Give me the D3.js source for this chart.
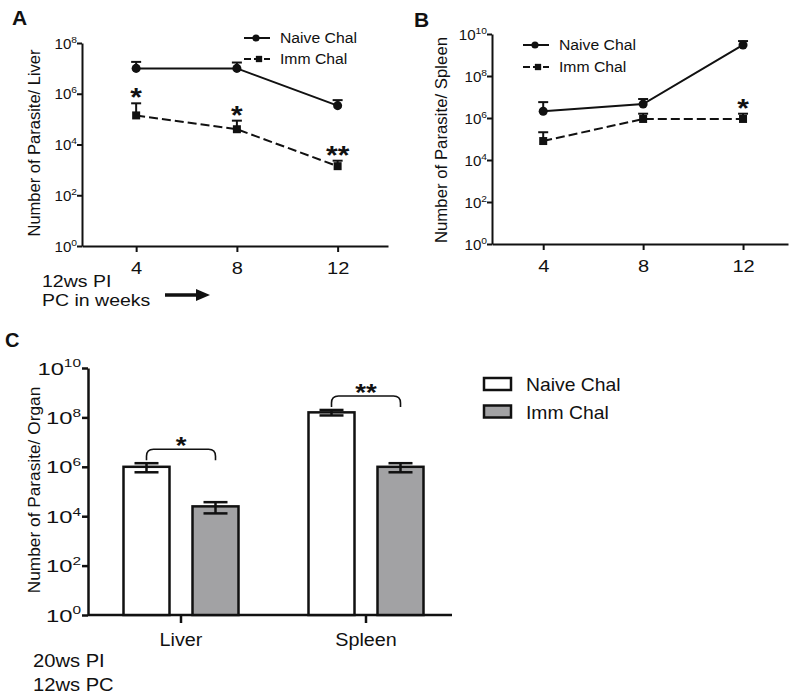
<!DOCTYPE html>
<html><head><meta charset="utf-8">
<script src="https://cdn.jsdelivr.net/npm/d3@7"></script>
<style>
body{margin:0;background:#fff}
svg{display:block;background:#fff}
text{font-family:"Liberation Sans",Arial,Helvetica,sans-serif;fill:#111}
</style>
</head><body>
<svg id="c" width="800" height="697"></svg>
<script>
// ---------- data ----------
const weeks = [4, 8, 12];
const seriesNames = ["Naive Chal", "Imm Chal"];
// Panel A: parasites per liver
const liverNaive      = [1.0e7, 1.0e7, 3.4e5];
const liverNaiveUpper = [1.8e7, 1.7e7, 5.6e5];
const liverImm        = [1.4e5, 4.0e4, 1.4e3];
const liverImmUpper   = [4.2e5, 8.7e4, 2.3e3];
const liverSig        = ["*", "*", "**"];
// Panel B: parasites per spleen
const spleenNaive      = [2.1e6, 4.6e6, 3.0e9];
const spleenNaiveUpper = [5.7e6, 8.0e6, 4.6e9];
const spleenImm        = [8.0e4, 9.0e5, 9.0e5];
const spleenImmUpper   = [2.1e5, 1.6e6, 1.6e6];
const spleenSig        = ["", "", "*"];
// Panel C: parasites per organ
const organs       = ["Liver", "Spleen"];
const organNaive    = [1.0e6, 1.6e8];
const organNaiveSem = [4.0e5, 4.0e7];
const organImm      = [2.5e4, 1.0e6];
const organImmSem   = [1.2e4, 4.0e5];
const organSig      = ["*", "**"];
// tick values
const ticksA  = [1, 1e2, 1e4, 1e6, 1e8];
const ticksBC = [1, 1e2, 1e4, 1e6, 1e8, 1e10];

// ---------- helpers ----------
const svg = d3.select("#c");
const INK = "#111";
function label(g, x, y, s, size, o = {}) {
  return g.append("text")
    .attr("transform", `translate(${x},${y}) scale(${o.sx || 1},1)${o.rot ? ` rotate(${o.rot})` : ""}`)
    .attr("font-size", size)
    .attr("font-weight", o.bold ? "bold" : null)
    .attr("text-anchor", o.anchor || "start")
    .text(s);
}
function powLabel(g, x, y, v, size, supSize, sx) {
  const e = Math.round(Math.log10(v));
  const t = g.append("text")
    .attr("transform", `translate(${x},${y}) scale(${sx},1)`)
    .attr("font-size", size).attr("text-anchor", "end");
  t.append("tspan").text("10");
  t.append("tspan").attr("font-size", supSize).attr("dy", -size * 0.42).text(e);
}
function styleAxis(a, w) {
  a.selectAll("path,line").attr("stroke", INK).attr("stroke-width", w);
}

// ---------- line panels ----------
function linePanel(o) {
  const g = svg.append("g");
  const x = d3.scaleLinear().domain(o.xDomain).range(o.xRange);
  const y = d3.scaleLog().domain([1, o.ticks[o.ticks.length - 1]]).range(o.yRange);

  const ax = g.append("g").attr("transform", `translate(0,${o.yRange[0]})`)
    .call(d3.axisBottom(x).tickValues(weeks).tickSize(6).tickSizeOuter(0).tickFormat(""));
  styleAxis(ax, 2);
  ax.selectAll(".tick").each(function (d) {
    label(d3.select(this), 0, 28, d, 17, { anchor: "middle", sx: 1.18 });
  });
  const ay = g.append("g").attr("transform", `translate(${o.xRange[0]},0)`)
    .call(d3.axisLeft(y).tickValues(o.ticks).tickSize(5).tickSizeOuter(0).tickFormat(""));
  styleAxis(ay, 2);
  ay.selectAll(".tick").each(function (d) {
    powLabel(d3.select(this), -5, 5, d, 14, 9.5, 1.08);
  });

  const line = d3.line().x((d, i) => x(weeks[i])).y(d => y(d));
  const series = [
    { v: o.naive, up: o.naiveUp, dash: null, sym: d3.symbolCircle, size: 64 },
    { v: o.imm, up: o.immUp, dash: "9,4", sym: d3.symbolSquare, size: 64 }
  ];
  series.forEach(s => {
    g.append("path").attr("d", line(s.v)).attr("fill", "none")
      .attr("stroke", INK).attr("stroke-width", 2).attr("stroke-dasharray", s.dash);
    s.v.forEach((v, i) => {
      const cx = x(weeks[i]);
      g.append("line").attr("x1", cx).attr("x2", cx).attr("y1", y(v)).attr("y2", y(s.up[i]))
        .attr("stroke", INK).attr("stroke-width", 2);
      g.append("line").attr("x1", cx - 5).attr("x2", cx + 5).attr("y1", y(s.up[i])).attr("y2", y(s.up[i]))
        .attr("stroke", INK).attr("stroke-width", 2);
      g.append("path").attr("d", d3.symbol().type(s.sym).size(s.size)())
        .attr("transform", `translate(${cx},${y(v)})`).attr("fill", INK);
    });
  });
  o.sig.forEach((s, i) => {
    if (!s) return;
    label(g, x(weeks[i]), y(o.immUp[i]) + 3, s, 26, { anchor: "middle", sx: 1.15, bold: true });
  });

  // legend
  const L = o.legend;
  series.forEach((s, i) => {
    const ly = L.y + i * L.dy;
    g.append("line").attr("x1", L.x).attr("x2", L.x + 26).attr("y1", ly).attr("y2", ly)
      .attr("stroke", INK).attr("stroke-width", 2).attr("stroke-dasharray", i ? "7,3" : null);
    g.append("path").attr("d", d3.symbol().type(s.sym).size(40)())
      .attr("transform", `translate(${L.x + 12 + i * 3},${ly})`).attr("fill", INK);
    label(g, L.x + 36, ly + 5, seriesNames[i], 15, { sx: 1.05 });
  });

  label(g, o.title.x, o.title.y, o.ylabel, o.title.size, { rot: -90, anchor: "middle" });
  label(g, o.letter.x, o.letter.y, o.letter.s, 21, { bold: true });
  return g;
}

const gA = linePanel({
  xDomain: [1.85, 14], xRange: [82, 388], yRange: [246, 43], ticks: ticksA,
  naive: liverNaive, naiveUp: liverNaiveUpper, imm: liverImm, immUp: liverImmUpper, sig: liverSig,
  legend: { x: 244, y: 38, dy: 21 },
  ylabel: "Number of Parasite/ Liver", title: { x: 40, y: 143, size: 16.5 },
  letter: { x: 12, y: 25, s: "A" }
});
linePanel({
  xDomain: [1.95, 13.8], xRange: [492, 788], yRange: [244, 34], ticks: ticksBC,
  naive: spleenNaive, naiveUp: spleenNaiveUpper, imm: spleenImm, immUp: spleenImmUpper, sig: spleenSig,
  legend: { x: 523, y: 45, dy: 22 },
  ylabel: "Number of Parasite/ Spleen", title: { x: 447, y: 140, size: 16.8 },
  letter: { x: 414, y: 27, s: "B" }
});
// A footnote + arrow
label(gA, 42, 287, "12ws PI", 16, { sx: 1.22 });
label(gA, 42, 306, "PC in weeks", 16, { sx: 1.22 });
gA.append("line").attr("x1", 165).attr("x2", 200).attr("y1", 295).attr("y2", 295)
  .attr("stroke", INK).attr("stroke-width", 3.5);
gA.append("path").attr("d", "M196,289L210,295L196,301Z").attr("fill", INK);

// ---------- bar panel C ----------
(function () {
  const g = svg.append("g");
  const y = d3.scaleLog().domain([1, 1e10]).range([615, 368]);
  const x = d3.scaleBand().domain(organs).range([88.5, 458.5]);
  const xg = d3.scaleBand().domain(seriesNames).range([-57.5, 57.5]).paddingInner(1 / 3);

  const ax = g.append("g").attr("transform", `translate(0,${y(1)})`)
    .call(d3.axisBottom(x).tickSize(8).tickSizeOuter(0).tickFormat(""));
  ax.select(".domain").remove();
  styleAxis(ax, 2.5);
  g.append("line").attr("x1", 88).attr("x2", 452).attr("y1", y(1)).attr("y2", y(1))
    .attr("stroke", INK).attr("stroke-width", 2.5);
  ax.selectAll(".tick").each(function (d) {
    label(d3.select(this), 0, 31, d, 17.5, { anchor: "middle", sx: 1.13 });
  });
  const ay = g.append("g").attr("transform", `translate(88,0)`)
    .call(d3.axisLeft(y).tickValues(ticksBC).tickSize(6).tickSizeOuter(0).tickFormat(""));
  styleAxis(ay, 2.5);
  ay.selectAll(".tick").each(function (d) {
    powLabel(d3.select(this), -7, 6, d, 17, 11, 1.4);
  });

  const data = organs.map((o, i) => ({
    organ: o,
    vals: [
      { grp: seriesNames[0], v: organNaive[i], sem: organNaiveSem[i], fill: "#fff" },
      { grp: seriesNames[1], v: organImm[i], sem: organImmSem[i], fill: "#a2a2a4" }
    ]
  }));
  data.forEach((d, i) => {
    const cx0 = x(d.organ) + x.bandwidth() / 2;
    d.vals.forEach(b => {
      const bx = cx0 + xg(b.grp);
      g.append("rect").attr("x", bx).attr("y", y(b.v)).attr("width", xg.bandwidth())
        .attr("height", y(1) - y(b.v)).attr("fill", b.fill).attr("stroke", INK).attr("stroke-width", 2.5);
      const c = bx + xg.bandwidth() / 2;
      const hi = y(b.v + b.sem), lo = y(b.v - b.sem);
      g.append("line").attr("x1", c).attr("x2", c).attr("y1", hi).attr("y2", lo).attr("stroke", INK).attr("stroke-width", 2.5);
      [hi, lo].forEach(yy => g.append("line").attr("x1", c - 12).attr("x2", c + 12).attr("y1", yy).attr("y2", yy)
        .attr("stroke", INK).attr("stroke-width", 2.5));
    });
    // significance bracket
    const x1 = cx0 + xg(seriesNames[0]) + xg.bandwidth() / 2;
    const x2 = cx0 + xg(seriesNames[1]) + xg.bandwidth() / 2;
    const top = Math.min(y(d.vals[0].v + d.vals[0].sem), y(d.vals[1].v + d.vals[1].sem)) - 14;
    const r = 7;
    g.append("path").attr("fill", "none").attr("stroke", INK).attr("stroke-width", 1.6)
      .attr("d", `M${x1},${top + 11}V${top + r}Q${x1},${top} ${x1 + r},${top}H${x2 - r}Q${x2},${top} ${x2},${top + r}V${top + 11}`);
    label(g, (x1 + x2) / 2, top + 5, organSig[i], 24, { anchor: "middle", sx: 1.15, bold: true });
  });

  // legend
  seriesNames.forEach((s, i) => {
    const ly = 378 + i * 27.5;
    g.append("rect").attr("x", 484).attr("y", ly).attr("width", 27).attr("height", 12)
      .attr("fill", i ? "#a2a2a4" : "#fff").attr("stroke", INK).attr("stroke-width", 2.5);
    label(g, 526, ly + 13, s, 18.6, { sx: 1.04 });
  });

  label(g, 40, 490, "Number of Parasite/ Organ", 17.3, { rot: -90, anchor: "middle" });
  label(g, 5, 347, "C", 20, { bold: true });
  label(g, 33, 667, "20ws PI", 18, { sx: 1.12 });
  label(g, 33, 691, "12ws PC", 18, { sx: 1.12 });
})();
</script>
</body></html>
